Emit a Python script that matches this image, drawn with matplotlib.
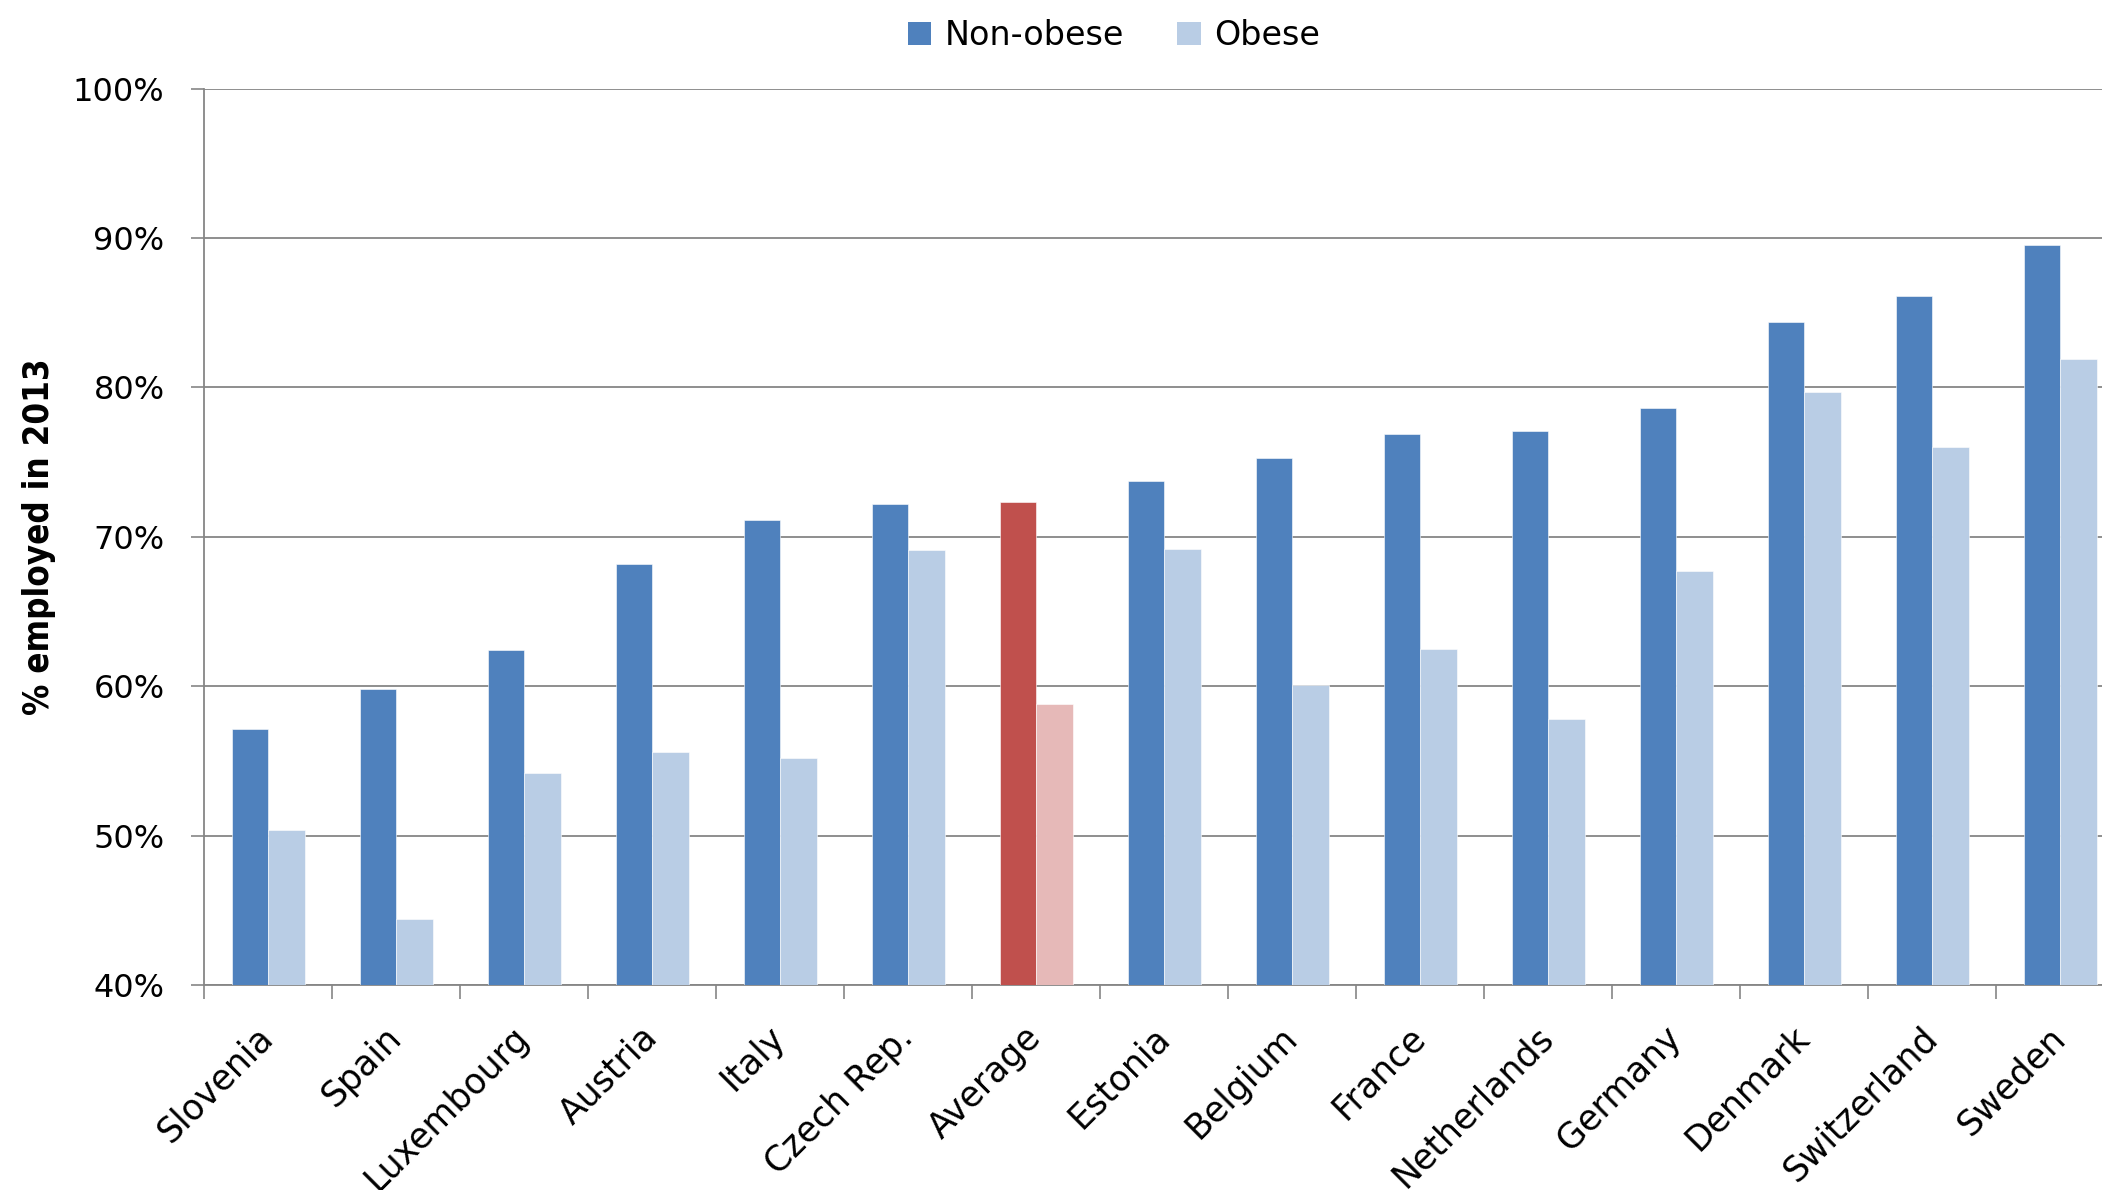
import matplotlib
matplotlib.use("Agg")
import matplotlib.pyplot as plt
import numpy as np
from matplotlib.patches import Patch

# Employment rates by obesity status, 2013
countries = ["Slovenia", "Spain", "Luxembourg", "Austria", "Italy", "Czech Rep.",
             "Average", "Estonia", "Belgium", "France", "Netherlands", "Germany",
             "Denmark", "Switzerland", "Sweden"]
non_obese = [57.1, 59.8, 62.4, 68.2, 71.1, 72.2, 72.3, 73.7, 75.3, 76.9, 77.1, 78.6,
             84.4, 86.1, 89.5]
obese = [50.4, 44.4, 54.2, 55.6, 55.2, 69.1, 58.8, 69.2, 60.1, 62.5, 57.8, 67.7,
         79.7, 76.0, 81.9]
y_ticks = [40, 50, 60, 70, 80, 90, 100]

DARK_BLUE = "#4F81BD"
LIGHT_BLUE = "#B9CDE5"
DARK_RED = "#C0504D"
LIGHT_RED = "#E6B9B8"
GRID = "#868686"

plt.rcParams["font.family"] = ["DejaVu Sans"]

fig = plt.figure(figsize=(21.02, 11.90), dpi=100)
ax = fig.add_axes([0.0971, 0.1723, 0.9134, 0.7533])

x = np.arange(len(countries))
w = 0.285
dark_colors = [DARK_RED if c == "Average" else DARK_BLUE for c in countries]
light_colors = [LIGHT_RED if c == "Average" else LIGHT_BLUE for c in countries]
base = y_ticks[0]
ax.bar(x - w / 2, np.array(non_obese) - base, bottom=base, width=w,
       color=dark_colors, edgecolor="white", linewidth=0.4, zorder=3)
ax.bar(x + w / 2, np.array(obese) - base, bottom=base, width=w,
       color=light_colors, edgecolor="white", linewidth=0.4, zorder=3)

ax.set_xlim(-0.5, len(countries) - 0.5)
ax.set_ylim(40, 100)

# y axis
ax.set_yticks(y_ticks)
ax.set_yticklabels([f"{v}%" for v in y_ticks], fontsize=23)
ax.tick_params(axis="y", length=9.5, width=1.2, color=GRID, pad=19)
ax.yaxis.grid(True, color=GRID, linewidth=1.3, zorder=0)
ax.set_axisbelow(True)

# x axis: ticks at category boundaries, labels at centers
ax.set_xticks(np.arange(-0.5, len(countries), 1.0), minor=False)
ax.set_xticklabels([])
ax.tick_params(axis="x", which="major", length=10, width=1.2, color=GRID)
ax.set_xticks(x, minor=True)
ax.set_xticklabels(countries, minor=True, rotation=45, ha="right",
                   va="center", rotation_mode="anchor", fontsize=25)
ax.tick_params(axis="x", which="minor", length=0, pad=34)

for side in ("top", "right"):
    ax.spines[side].set_visible(False)
for side in ("left", "bottom"):
    ax.spines[side].set_color(GRID)
    ax.spines[side].set_linewidth(1.3)

fig.text(0.0185, 0.549, "% employed in 2013", rotation=90, ha="center",
         va="center", fontsize=25, fontweight="bold", fontstretch="condensed",
         family=["DejaVu Sans"])

handles = [Patch(facecolor=DARK_BLUE, edgecolor="none"),
           Patch(facecolor=LIGHT_BLUE, edgecolor="none")]
fig.legend(handles, ["Non-obese", "Obese"], loc="center",
           bbox_to_anchor=(0.530, 0.970), ncol=2, frameon=False, fontsize=24,
           handlelength=0.7, handleheight=0.7, handletextpad=0.4,
           columnspacing=1.6)

fig.savefig("out.png", dpi=100)
